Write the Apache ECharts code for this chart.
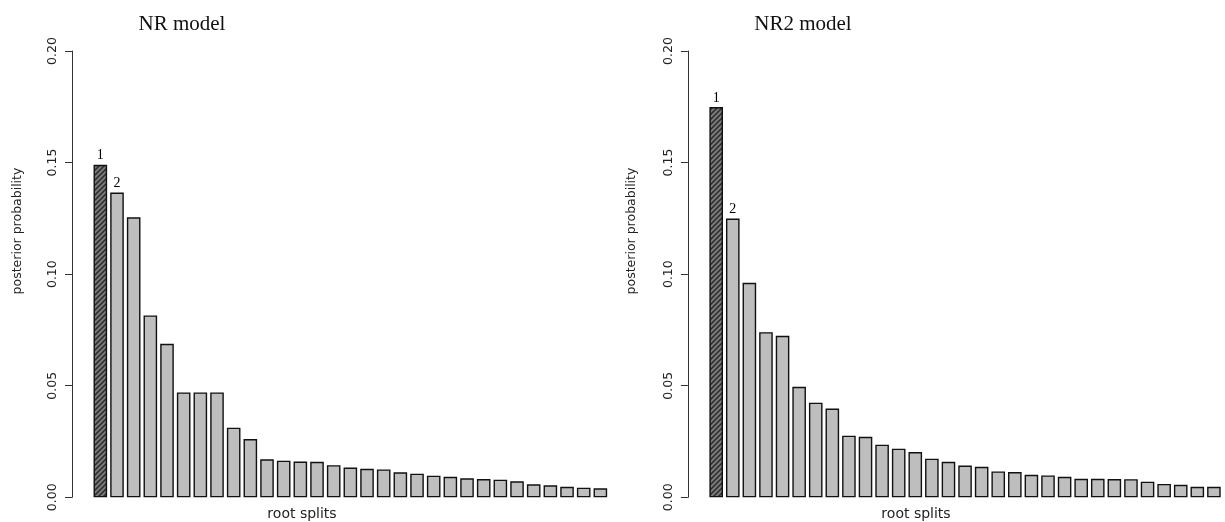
<!DOCTYPE html>
<html>
<head>
<meta charset="utf-8">
<script src="https://cdn.jsdelivr.net/npm/echarts@6/dist/echarts.min.js"></script>
<style>
html,body{margin:0;padding:0;background:#fff;}
#chart{width:1225px;height:522px;}
</style>
</head>
<body>
<div id="chart"></div>
<script>
// ---- data ----
const categories = Array.from({length: 31}, (_, i) => String(i + 1));
const nrValues = [0.1490, 0.1366, 0.1255, 0.0815, 0.0688, 0.0470, 0.0470, 0.0470, 0.0312, 0.0261,
  0.0170, 0.0164, 0.0160, 0.0159, 0.0144, 0.0133, 0.0128, 0.0125, 0.0112, 0.0106,
  0.0097, 0.0092, 0.0085, 0.0082, 0.0079, 0.0072, 0.0058, 0.0054, 0.0047, 0.0043, 0.0040];
const nr2Values = [0.1749, 0.1249, 0.0961, 0.0740, 0.0724, 0.0495, 0.0424, 0.0398, 0.0276, 0.0271,
  0.0236, 0.0218, 0.0203, 0.0173, 0.0159, 0.0142, 0.0137, 0.0116, 0.0113, 0.0101,
  0.0098, 0.0092, 0.0083, 0.0083, 0.0082, 0.0081, 0.0070, 0.0060, 0.0056, 0.0047, 0.0047];
const yTicks = [0, 0.05, 0.10, 0.15, 0.20];
const panelTitles = ['NR model', 'NR2 model'];
const yTitle = 'posterior probability';
const xTitle = 'root splits';
const topLabels = ['1', '2'];

// ---- hatch pattern for the top split ----
function makeHatch() {
  const c = document.createElement('canvas');
  const s = 5;
  c.width = s; c.height = s;
  const g = c.getContext('2d');
  g.fillStyle = '#7a7a7a';
  g.fillRect(0, 0, s, s);
  g.strokeStyle = '#2a2a2a';
  g.lineWidth = 1.5;
  g.beginPath();
  g.moveTo(-1, s + 1); g.lineTo(s + 1, -1);
  g.moveTo(-1, 1); g.lineTo(1, -1);
  g.moveTo(s - 1, s + 1); g.lineTo(s + 1, s - 1);
  g.stroke();
  return c;
}
const hatch = makeHatch();

function buildData(values) {
  return values.map((v, i) => {
    const item = { value: v };
    if (i === 0) {
      item.itemStyle = { color: { image: hatch, repeat: 'repeat' } };
    }
    if (i < topLabels.length) {
      item.label = {
        show: true, position: 'top', distance: 2,
        formatter: topLabels[i],
        fontFamily: 'Liberation Serif', fontSize: 14, color: '#000'
      };
    }
    return item;
  });
}

const grids = [
  { left: 92, top: 51, width: 516.7, height: 446.3 },
  { left: 707.9, top: 51, width: 514.3, height: 446.3 }
];

const chart = echarts.init(document.getElementById('chart'), null, { renderer: 'canvas' });

const yAxisBase = (idx) => ({
  type: 'value', gridIndex: idx, min: 0, max: 0.2, interval: 0.05,
  offset: 20,
  axisLine: { show: true, lineStyle: { color: '#333', width: 1 } },
  axisTick: { show: true, length: 7, lineStyle: { color: '#333', width: 1 } },
  axisLabel: {
    rotate: 90, margin: 13, fontFamily: 'DejaVu Sans', fontSize: 12.5, color: '#222',
    formatter: (v) => v.toFixed(2),
    customValues: yTicks
  },
  splitLine: { show: false }
});

const xAxisBase = (idx) => ({
  type: 'category', gridIndex: idx, data: categories, boundaryGap: true,
  axisLine: { show: false }, axisTick: { show: false }, axisLabel: { show: false },
  splitLine: { show: false }
});

const seriesBase = (idx, values) => ({
  type: 'bar', xAxisIndex: idx, yAxisIndex: idx,
  data: buildData(values),
  barWidth: 13.6,
  itemStyle: { color: '#BEBEBE', borderColor: '#111', borderWidth: 1.4 },
  emphasis: { disabled: true },
  animation: false
});

const textStyleSans = { fontFamily: 'DejaVu Sans', fontSize: 12.5, fill: '#222' };

chart.setOption({
  animation: false,
  backgroundColor: '#ffffff',
  grid: grids,
  xAxis: [xAxisBase(0), xAxisBase(1)],
  yAxis: [yAxisBase(0), yAxisBase(1)],
  series: [seriesBase(0, nrValues), seriesBase(1, nr2Values)],
  title: [
    { text: panelTitles[0], left: 177, top: 9, textAlign: 'center',
      textStyle: { fontFamily: 'Liberation Serif', fontSize: 21, fontWeight: 'normal', color: '#111' } },
    { text: panelTitles[1], left: 798, top: 9, textAlign: 'center',
      textStyle: { fontFamily: 'Liberation Serif', fontSize: 21, fontWeight: 'normal', color: '#111' } }
  ],
  graphic: [
    { type: 'text', x: 18, y: 231, rotation: Math.PI / 2,
      style: Object.assign({ text: yTitle, align: 'center', verticalAlign: 'middle' }, textStyleSans) },
    { type: 'text', x: 632, y: 231, rotation: Math.PI / 2,
      style: Object.assign({ text: yTitle, align: 'center', verticalAlign: 'middle' }, textStyleSans) },
    { type: 'text', x: 302, y: 514,
      style: { text: xTitle, align: 'center', verticalAlign: 'middle', fontFamily: 'DejaVu Sans', fontSize: 14, fill: '#222' } },
    { type: 'text', x: 916, y: 514,
      style: { text: xTitle, align: 'center', verticalAlign: 'middle', fontFamily: 'DejaVu Sans', fontSize: 14, fill: '#222' } }
  ]
});
</script>
</body>
</html>
